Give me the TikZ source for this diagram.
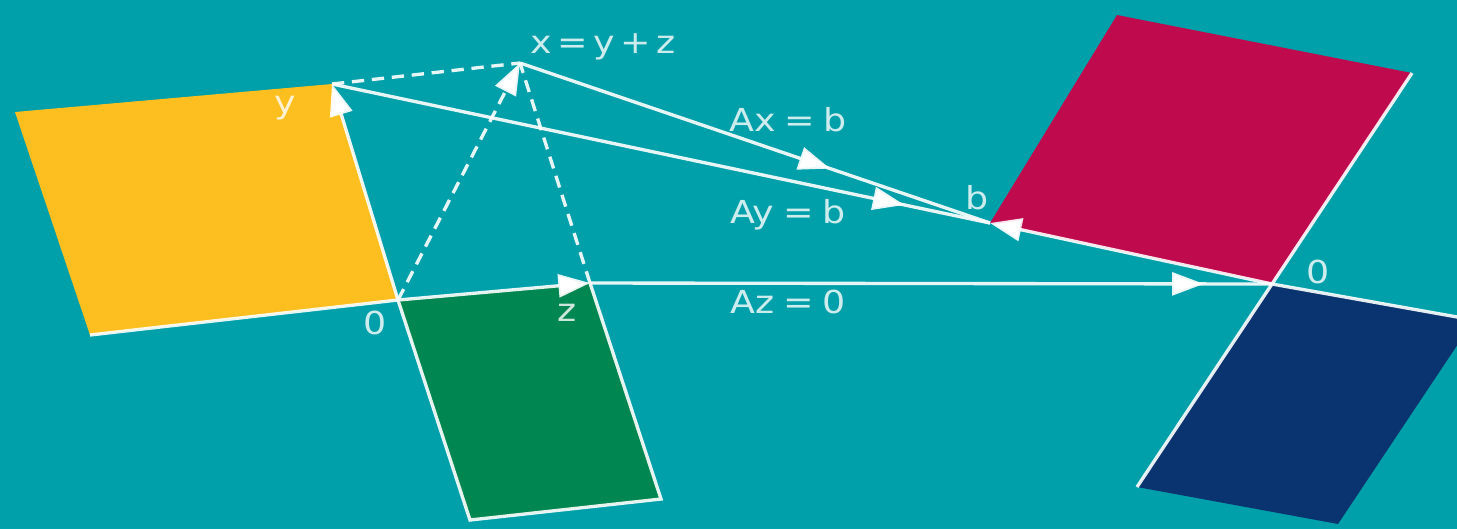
\documentclass[tikz,border=0pt]{standalone}
\usepackage{fontspec}
\newfontfamily\lblfont{DejaVu Sans}[FakeStretch=1.15]
\usetikzlibrary{arrows.meta,decorations.markings}
\definecolor{bgteal}{RGB}{0,160,170}
\definecolor{rowyellow}{RGB}{253,190,32}
\definecolor{nullgreen}{RGB}{0,134,80}
\definecolor{colred}{RGB}{192,10,78}
\definecolor{leftblue}{RGB}{10,52,112}

\begin{document}
\begin{tikzpicture}[
    x=0.01cm, y=-0.01cm,
    edge/.style={draw=white, draw opacity=0.9, line width=0.95pt},
    tip/.style={-{Triangle[length=9pt,width=6.5pt]}},
    dashline/.style={edge, dash pattern=on 3.5pt off 2.2pt},
    midarrow/.style={postaction={decorate}, decoration={markings,
        mark=at position #1 with {\arrow{Triangle[length=9pt,width=6.5pt]}}}},
    lbl/.style={text=white, text opacity=0.8, inner sep=0pt,
                font=\lblfont\fontsize{9}{11}\selectfont}]
  \fill[bgteal] (0,0) rectangle (1457,529);
  \clip (0,0) rectangle (1457,529);

  % the points
  \coordinate (O) at (398,300);
  \coordinate (y) at (332,84);
  \coordinate (z) at (590,283);
  \coordinate (x) at (520,63);
  \coordinate (b) at (990,223);
  \coordinate (Op) at (1272,284);
  \coordinate (yTL) at (15,112);
  \coordinate (yBL) at (90,335);
  \coordinate (zBR) at (661,499);
  \coordinate (zBL) at (470,520);
  \coordinate (bTL) at (1117,15);
  \coordinate (bTR) at (1412,73);
  \coordinate (nTR) at (1474,320);
  \coordinate (nBR) at (1338,524);
  \coordinate (nBL) at (1137,487);

  % the four subspaces
  \fill[rowyellow] (yTL) -- (y) -- (O) -- (yBL) -- cycle;
  \fill[nullgreen] (O) -- (z) -- (zBR) -- (zBL) -- cycle;
  \fill[colred] (bTL) -- (bTR) -- (Op) -- (b) -- cycle;
  \fill[leftblue] (Op) -- (nTR) -- (nBR) -- (nBL) -- cycle;

  \draw[edge] (yBL) -- (O);
  \draw[edge, tip] (O) -- (y);
  \draw[edge] (z) -- (zBR) -- (zBL) -- (O);
  \draw[edge, tip] (O) -- (z);
  \draw[edge] (bTR) -- (Op);
  \draw[edge, tip] (Op) -- (b);
  \draw[edge] (nBL) -- (Op) -- (nTR);

  % x = y + z
  \draw[dashline] (y) -- (x);
  \draw[dashline] (z) -- (x);
  \draw[dashline, tip] (O) -- (x);

  \draw[edge, midarrow=0.66] (x) -- (b);
  \draw[edge, midarrow=0.87] (y) -- (b);
  \draw[edge, midarrow=0.9] (z) -- (Op);

  \node[lbl] (lx) at (603,47) {x\hspace{1.5pt}=\hspace{1.5pt}y\hspace{1.5pt}+\hspace{1.5pt}z};
  \node[lbl] (lAx) at (788,120) {Ax\hspace{2.5pt}=\hspace{2.5pt}b};
  \node[lbl] (lAy) at (788,215) {Ay\hspace{2.5pt}=\hspace{2.5pt}b};
  \node[lbl] (lAz) at (788,302) {Az\hspace{2.5pt}=\hspace{2.5pt}0};
  \node[lbl] (lb) at (977,198) {b};
  \node[lbl] (lO) at (375,323) {0};
  \node[lbl] (lOp) at (1318,272) {0};
  \node[lbl] (lz) at (567,313) {z};
  \node[lbl] (ly) at (285,108) {y};
\end{tikzpicture}
\end{document}
